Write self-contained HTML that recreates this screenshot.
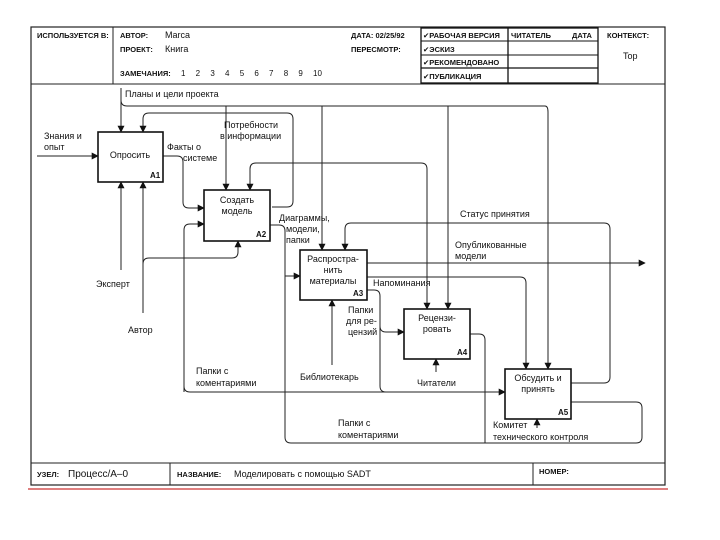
<!DOCTYPE html>
<html><head><meta charset="utf-8"><style>
html,body{margin:0;padding:0;background:#fff;}
svg{display:block;font-family:"Liberation Sans","DejaVu Sans",sans-serif;}
.t{font-size:9px;fill:#111;}
.h{font-size:7.5px;fill:#111;font-weight:bold;}
.l{fill:none;stroke:#222;stroke-width:1;stroke-linejoin:round;}
.b{fill:#fff;stroke:#111;stroke-width:1.6;}
</style></head><body>
<svg width="720" height="540" viewBox="0 0 720 540">
<defs><marker id="a" viewBox="0 0 10 10" refX="9" refY="5" markerWidth="7" markerHeight="7" orient="auto" markerUnits="userSpaceOnUse"><path d="M0,0L10,5L0,10z" fill="#111"/></marker></defs>
<rect x="31" y="27" width="634" height="458" fill="none" stroke="#222" stroke-width="1.2"/>
<line x1="31" y1="84" x2="665" y2="84" stroke="#222"/>
<line x1="113" y1="27" x2="113" y2="84" stroke="#222"/>
<line x1="31" y1="463" x2="665" y2="463" stroke="#222"/>
<line x1="170" y1="463" x2="170" y2="485" stroke="#222"/>
<line x1="533" y1="463" x2="533" y2="485" stroke="#222"/>
<line x1="28" y1="489" x2="668" y2="489" stroke="#c33" stroke-width="1.2"/>
<rect x="421" y="28" width="177" height="55" fill="none" stroke="#111" stroke-width="1.3"/>
<line x1="508" y1="28" x2="508" y2="83" stroke="#111" stroke-width="1.3"/>
<line x1="421" y1="41" x2="598" y2="41" stroke="#111"/>
<line x1="421" y1="55" x2="598" y2="55" stroke="#111"/>
<line x1="421" y1="68" x2="598" y2="68" stroke="#111" stroke-width="1.3"/>
<text class="h" x="37" y="38">ИСПОЛЬЗУЕТСЯ В:</text>
<text class="h" x="120" y="38">АВТОР:</text><text class="t" x="165" y="38">Marca</text>
<text class="h" x="120" y="52">ПРОЕКТ:</text><text class="t" x="165" y="52">Книга</text>
<text class="h" x="120" y="76">ЗАМЕЧАНИЯ:</text>
<text class="t" x="181" y="76" style="font-size:8px" word-spacing="8">1 2 3 4 5 6 7 8 9 10</text>
<text class="h" x="351" y="38">ДАТА: 02/25/92</text>
<text class="h" x="351" y="52">ПЕРЕСМОТР:</text>
<text class="h" x="423" y="38">✔РАБОЧАЯ ВЕРСИЯ</text>
<text class="h" x="423" y="52">✔ЭСКИЗ</text>
<text class="h" x="423" y="65">✔РЕКОМЕНДОВАНО</text>
<text class="h" x="423" y="79">✔ПУБЛИКАЦИЯ</text>
<text class="h" x="511" y="38">ЧИТАТЕЛЬ</text><text class="h" x="572" y="38">ДАТА</text>
<text class="h" x="607" y="38">КОНТЕКСТ:</text>
<text class="t" x="623" y="59">Top</text>
<text class="h" x="37" y="477">УЗЕЛ:</text><text class="t" x="68" y="477" style="font-size:10px">Процесс/А–0</text>
<text class="h" x="177" y="477">НАЗВАНИЕ:</text><text class="t" x="234" y="477">Моделировать с помощью SADT</text>
<text class="h" x="539" y="474">НОМЕР:</text>
<path class="l" d="M121,88V132" marker-end="url(#a)"/>
<path class="l" d="M121,100Q121,106 127,106H545Q548,106 548,112V369" marker-end="url(#a)"/>
<path class="l" d="M226,106V190" marker-end="url(#a)"/>
<path class="l" d="M322,106V250" marker-end="url(#a)"/>
<path class="l" d="M448,106V309" marker-end="url(#a)"/>
<path class="l" d="M272,207H287Q293,207 293,201V119Q293,113 287,113H149Q143,113 143,119V132" marker-end="url(#a)"/>
<path class="l" d="M427,169Q427,163 421,163H256Q250,163 250,169V190" marker-end="url(#a)"/>
<path class="l" d="M427,169V309" marker-end="url(#a)"/>
<path class="l" d="M37,156H98" marker-end="url(#a)"/>
<path class="l" d="M163,156H177Q183,156 183,162V202Q183,208 189,208H204" marker-end="url(#a)"/>
<path class="l" d="M184,392V230Q184,224 190,224H204" marker-end="url(#a)"/>
<path class="l" d="M184,386Q184,392 190,392H505" marker-end="url(#a)"/>
<path class="l" d="M121,270V182" marker-end="url(#a)"/>
<path class="l" d="M143,313V182" marker-end="url(#a)"/>
<path class="l" d="M143,264Q143,258 149,258H232Q238,258 238,252V241" marker-end="url(#a)"/>
<path class="l" d="M270,225H279Q285,225 285,231V276H300" marker-end="url(#a)"/>
<path class="l" d="M285,276V437Q285,443 291,443H636Q642,443 642,437V408Q642,402 636,402H571"/>
<path class="l" d="M470,334H479Q485,334 485,340V443"/>
<path class="l" d="M367,263H645" marker-end="url(#a)"/>
<path class="l" d="M367,277H520Q526,277 526,283V369" marker-end="url(#a)"/>
<path class="l" d="M367,290H374Q380,290 380,296V326Q380,332 386,332H404" marker-end="url(#a)"/>
<path class="l" d="M380,326V386Q380,392 386,392"/>
<path class="l" d="M571,383H604Q610,383 610,377V229Q610,223 604,223H351Q345,223 345,229V250" marker-end="url(#a)"/>
<path class="l" d="M332,365V300" marker-end="url(#a)"/>
<path class="l" d="M436,372V359" marker-end="url(#a)"/>
<path class="l" d="M537,428V419" marker-end="url(#a)"/>
<rect class="b" x="98" y="132" width="65" height="50"/>
<rect class="b" x="204" y="190" width="66" height="51"/>
<rect class="b" x="300" y="250" width="67" height="50"/>
<rect class="b" x="404" y="309" width="66" height="50"/>
<rect class="b" x="505" y="369" width="66" height="50"/>
<g class="t" text-anchor="middle">
<text x="130" y="158">Опросить</text>
<text x="237" y="203">Создать</text><text x="237" y="214">модель</text>
<text x="333" y="262">Распростра-</text><text x="333" y="273">нить</text><text x="333" y="284">материалы</text>
<text x="437" y="321">Рецензи-</text><text x="437" y="332">ровать</text>
<text x="538" y="381">Обсудить и</text><text x="538" y="392">принять</text>
</g>
<g class="t" style="font-size:8px;font-weight:bold">
<text x="150" y="178">A1</text><text x="256" y="237">A2</text><text x="353" y="296">A3</text><text x="457" y="355">A4</text><text x="558" y="415">A5</text>
</g>
<g class="t">
<text x="125" y="97">Планы и цели проекта</text>
<text x="224" y="128">Потребности</text><text x="220" y="139">в информации</text>
<text x="44" y="139">Знания и</text><text x="44" y="150">опыт</text>
<text x="167" y="150">Факты о</text><text x="183" y="161">системе</text>
<text x="279" y="221">Диаграммы,</text><text x="286" y="232">модели,</text><text x="286" y="243">папки</text>
<text x="460" y="217">Статус принятия</text>
<text x="455" y="248">Опубликованные</text><text x="455" y="259">модели</text>
<text x="373" y="286">Напоминания</text>
<text x="348" y="313">Папки</text><text x="346" y="324">для ре-</text><text x="348" y="335">цензий</text>
<text x="96" y="287">Эксперт</text>
<text x="128" y="333">Автор</text>
<text x="196" y="374">Папки с</text><text x="196" y="386">коментариями</text>
<text x="300" y="380">Библиотекарь</text>
<text x="417" y="386">Читатели</text>
<text x="338" y="426">Папки с</text><text x="338" y="438">коментариями</text>
<text x="493" y="428">Комитет</text><text x="493" y="440">технического контроля</text>
</g>
</svg>
</body></html>
